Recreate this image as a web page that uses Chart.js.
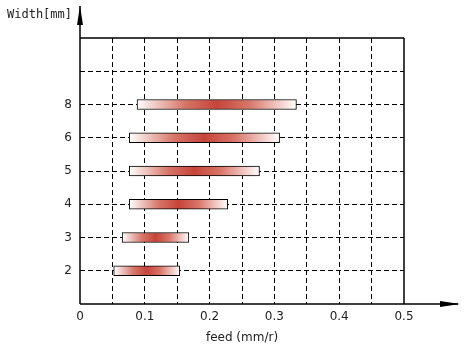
<!DOCTYPE html>
<html>
<head>
<meta charset="utf-8">
<script src="https://cdn.jsdelivr.net/npm/chart.js@4.4.0/dist/chart.umd.min.js"></script>
<style>
  html, body { margin: 0; padding: 0; background: #fff; }
  #wrap { width: 467px; height: 349px; }
</style>
</head>
<body>
<div id="wrap"><canvas id="grafico"></canvas></div>
<script>
// ancho de corte y rango de avance (mm/r)
var widths = ['8', '6', '5', '4', '3', '2'];
var feedMin = [0.088, 0.076, 0.076, 0.076, 0.065, 0.052];
var feedMax = [0.334, 0.308, 0.277, 0.228, 0.168, 0.154];
var xTickLabels = ['0', '0.1', '0.2', '0.3', '0.4', '0.5'];

// filas vacias arriba y abajo para la rejilla
var labels = ['', ''].concat(widths).concat(['']);
var rangos = [null, null].concat(widths.map(function (w, i) {
  return [feedMin[i], feedMax[i]];
})).concat([null]);

function degradado(ctx) {
  var chart = ctx.chart;
  if (!chart.chartArea || ctx.raw == null) return '#c8463a';
  var x = chart.scales.x;
  var x0 = x.getPixelForValue(ctx.raw[0]);
  var x1 = x.getPixelForValue(ctx.raw[1]);
  var g = chart.ctx.createLinearGradient(x0, 0, x1, 0);
  g.addColorStop(0, '#ffffff');
  g.addColorStop(0.3, '#d87568');
  g.addColorStop(0.5, '#c6443a');
  g.addColorStop(0.7, '#d87568');
  g.addColorStop(1, '#ffffff');
  return g;
}

// marco, ejes con flechas y titulo del eje y
var ejes = {
  id: 'ejes',
  afterDraw: function (chart) {
    var c = chart.ctx, a = chart.chartArea;
    c.save();
    c.strokeStyle = '#000';
    c.lineWidth = 1.5;
    c.setLineDash([]);
    c.beginPath();
    c.moveTo(a.left, a.top); c.lineTo(a.right, a.top);
    c.moveTo(a.right, a.top); c.lineTo(a.right, a.bottom);
    c.moveTo(a.left, a.bottom); c.lineTo(458, a.bottom);
    c.moveTo(a.left, a.bottom); c.lineTo(a.left, 6);
    c.stroke();
    c.fillStyle = '#000';
    c.beginPath();
    c.moveTo(460, a.bottom); c.lineTo(440, a.bottom - 3); c.lineTo(440, a.bottom + 3); c.closePath();
    c.fill();
    c.beginPath();
    c.moveTo(a.left, 6); c.lineTo(a.left - 3, 25); c.lineTo(a.left + 3, 25); c.closePath();
    c.fill();
    c.font = '12px "DejaVu Sans Mono"';
    c.fillStyle = '#222';
    c.textBaseline = 'middle';
    c.fillText('Width[mm]', 7, 15);
    c.restore();
  }
};

var ctxGrafico = document.getElementById('grafico').getContext('2d');
new Chart(ctxGrafico, {
  type: 'bar',
  data: {
    labels: labels,
    datasets: [{
      data: rangos,
      backgroundColor: degradado,
      borderColor: '#000',
      borderWidth: 1,
      borderSkipped: false,
      barThickness: 10
    }]
  },
  plugins: [ejes],
  options: {
    indexAxis: 'y',
    responsive: true,
    maintainAspectRatio: false,
    animation: false,
    layout: { padding: { top: 38, right: 63, left: 0, bottom: 0 } },
    plugins: { legend: { display: false }, tooltip: { enabled: false } },
    scales: {
      x: {
        type: 'linear',
        min: 0,
        max: 0.5,
        ticks: {
          stepSize: 0.05,
          autoSkip: false,
          maxRotation: 0,
          color: '#222',
          font: { family: 'DejaVu Sans', size: 12 },
          padding: 6,
          callback: function (v) {
            var i = Math.round(v * 20);
            return i % 2 === 0 ? xTickLabels[i / 2] : '';
          }
        },
        grid: {
          color: function (c) {
            var v = c.tick ? c.tick.value : 0;
            return (v <= 0 || v >= 0.5) ? 'rgba(0,0,0,0)' : '#000';
          },
          lineWidth: 1,
          drawTicks: false
        },
        border: { display: false, dash: [5, 3] },
        title: {
          display: true,
          text: 'feed (mm/r)',
          color: '#222',
          font: { family: 'DejaVu Sans', size: 12 },
          padding: { top: 2 }
        },
        afterFit: function (s) { s.height = 45; }
      },
      y: {
        type: 'category',
        offset: false,
        ticks: {
          color: '#222',
          font: { family: 'DejaVu Sans', size: 12 },
          padding: 8
        },
        grid: {
          offset: false,
          color: function (c) {
            return (c.index === 0 || c.index === labels.length - 1) ? 'rgba(0,0,0,0)' : '#000';
          },
          lineWidth: 1,
          drawTicks: false
        },
        border: { display: false, dash: [5, 3] },
        afterFit: function (s) { s.width = 80; }
      }
    }
  }
});
</script>
</body>
</html>
